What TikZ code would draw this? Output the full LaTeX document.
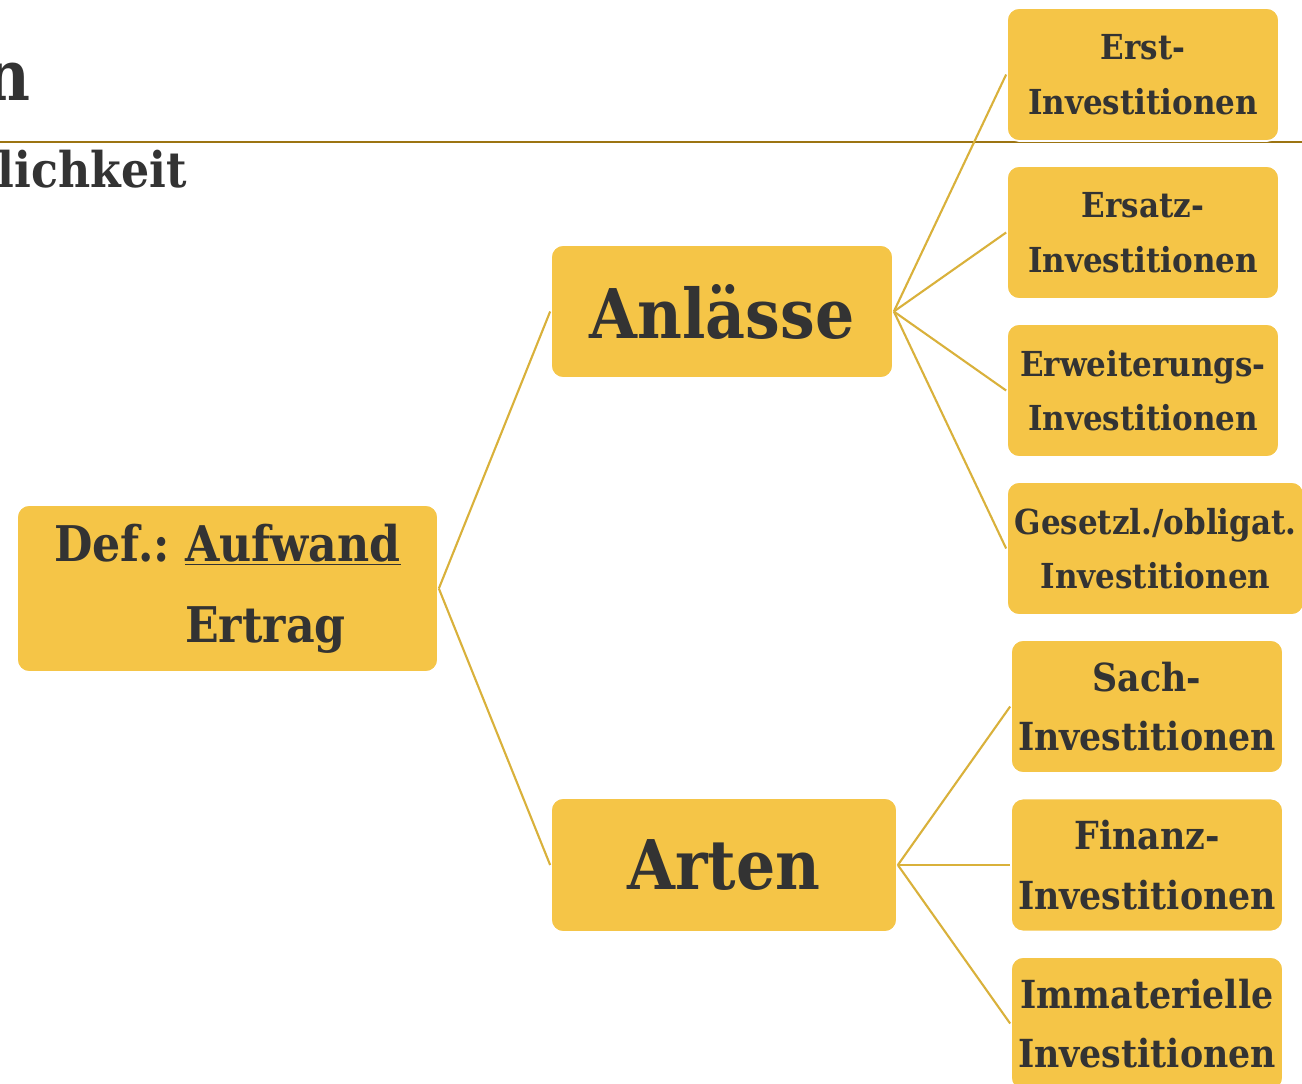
\documentclass[tikz,border=0pt]{standalone}
\usepackage{fontspec}
\setmainfont{DejaVu Serif Condensed}
\usetikzlibrary{positioning}
\definecolor{boxgold}{HTML}{F5C547}
\definecolor{inkgray}{HTML}{333333}
\definecolor{linegold}{HTML}{D9B13B}
\definecolor{rulebrown}{HTML}{9C7412}
\tikzset{
    topic/.style={fill=boxgold,draw=white,line width=1pt,rounded corners=0.24cm,text=inkgray,align=center,inner sep=0pt},
    small/.style={topic,minimum width=5.44cm,minimum height=2.66cm,font=\bfseries\fontsize{19.6}{31}\selectfont},
    medium/.style={topic,minimum width=5.44cm,minimum height=2.66cm,font=\bfseries\fontsize{22}{34}\selectfont},
    link/.style={linegold,line width=1.2pt}
}
\begin{document}
\begin{tikzpicture}[x=0.02cm,y=-0.02cm]
                \useasboundingbox (0,0) rectangle (1302,1083);
                \clip (0,0) rectangle (1302,1083);
                \draw[rulebrown,line width=1.5pt] (0,142) -- (1302,142);
                \node[anchor=base east,text=inkgray,font=\bfseries\fontsize{40}{40}\selectfont] (title) at (37,100) {n};
                \node[anchor=base east,text=inkgray,font=\bfseries\fontsize{28}{28}\selectfont] (subtitle) at (193,187) {tlichkeit};
                \node[topic,minimum width=8.42cm,minimum height=3.34cm,font=\bfseries\fontsize{28}{46}\selectfont\frenchspacing,align=left] (def) at (227.5,588.5) {Def.: \underline{Aufwand}\\\hphantom{Def.: }Ertrag};
                \node[topic,minimum width=6.84cm,minimum height=2.66cm,font=\bfseries\fontsize{39}{39}\selectfont] (anl) at (722,311.5) {Anlässe};
                \node[topic,minimum width=6.92cm,minimum height=2.68cm,font=\bfseries\fontsize{39}{39}\selectfont] (art) at (724,865) {Arten};
                \node[small] (erst) at (1143,74.5) {Erst-\\Investitionen};
                \node[small] (ersatz) at (1143,232.5) {Ersatz-\\Investitionen};
                \node[small] (erw) at (1143,390.5) {Erweiterungs-\\Investitionen};
                \node[small,minimum width=5.94cm] (ges) at (1155.5,548.5) {Gesetzl./obligat.\\Investitionen};
                \node[medium] (sach) at (1147,706.5) {Sach-\\Investitionen};
                \node[medium] (fin) at (1147,865) {Finanz-\\Investitionen};
                \node[medium] (imm) at (1147,1023.5) {Immaterielle\\Investitionen};
                \draw[link] (def.east) -- (anl.west);
                \draw[link] (def.east) -- (art.west);
                \foreach \n in {erst,ersatz,erw,ges}{
                    \draw[link] (anl.east) -- (\n.west);
                }
                \foreach \n in {sach,fin,imm}{
                    \draw[link] (art.east) -- (\n.west);
                }
\end{tikzpicture}
\end{document}
